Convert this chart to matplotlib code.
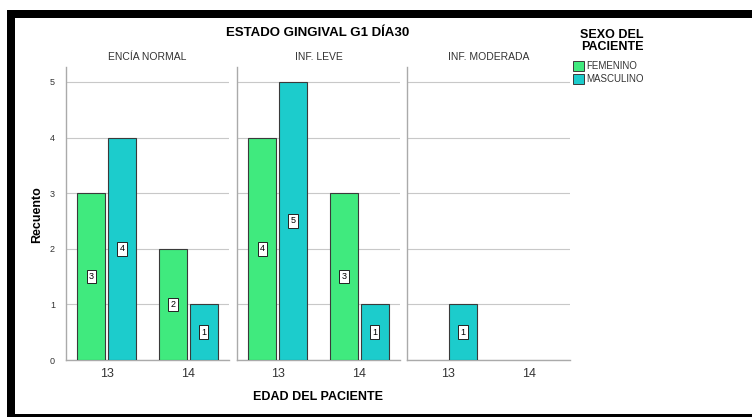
import matplotlib
matplotlib.use("Agg")
import matplotlib.pyplot as plt
from matplotlib.patches import Rectangle
import numpy as np

plt.rcParams['font.family'] = ['Liberation Sans', 'DejaVu Sans']

panels = ["ENCÍA NORMAL", "INF. LEVE", "INF. MODERADA"]
ages = ["13", "14"]
series = ["FEMENINO", "MASCULINO"]
femenino = [[3, 2], [4, 3], [0, 0]]
masculino = [[4, 1], [5, 1], [1, 0]]
colors = ["#40EA7E", "#1CCCCC"]

W, H = 752, 417
fig = plt.figure(figsize=(W / 100, H / 100), dpi=100)

lefts = [66, 237, 407]
pw = 163
bottom_px, top_px = 360, 67
x = np.arange(len(ages))
bw = 0.34
off = 0.19
unit = (360 - 82) / 5.0
ytop = (bottom_px - top_px) / unit

for i, name in enumerate(panels):
    ax = fig.add_axes([lefts[i] / W, 1 - bottom_px / H, pw / W, (bottom_px - top_px) / H])
    ax.set_xlim(-0.5, 1.5)
    ax.set_ylim(0, ytop)
    ax.set_yticks(range(6))
    ax.grid(axis='y', color='#c8c8c8', linewidth=0.8)
    ax.set_axisbelow(True)
    for s in ['top', 'right']:
        ax.spines[s].set_visible(False)
    for s in ['left', 'bottom']:
        ax.spines[s].set_color('#aaaaaa')
        ax.spines[s].set_linewidth(1.0)
    ax.tick_params(length=0, colors='#333333')
    ax.set_xticks(x)
    ax.set_xticklabels(ages, fontsize=9, color='#333333')
    ax.tick_params(axis='x', pad=6)
    if i == 0:
        ax.set_yticklabels([str(v) for v in range(6)], fontsize=6.5)
        ax.tick_params(axis='y', pad=8)
    else:
        ax.set_yticklabels([])
    for j, (vals, c) in enumerate(zip([femenino[i], masculino[i]], colors)):
        pos = x + (-off if j == 0 else off)
        keep = [k for k, v in enumerate(vals) if v > 0]
        if keep:
            ax.bar([pos[k] for k in keep], [vals[k] for k in keep], width=bw, color=c,
                   edgecolor='#3a3a3a', linewidth=0.8, zorder=3)
        for k in keep:
            v = vals[k]
            ax.text(pos[k], v / 2, str(v), ha='center', va='center', fontsize=6.5, zorder=5,
                    bbox=dict(boxstyle='square,pad=0.25', fc='white', ec='#222222', lw=0.7))
    ax.set_title(name, fontsize=7.5, color='#333333', pad=5)

fig.text(318 / W, 1 - 33 / H, "ESTADO GINGIVAL G1 DÍA30", ha='center', va='center',
         fontsize=9.5, fontweight='bold')
fig.text(37 / W, 1 - 215 / H, "Recuento", rotation=90, ha='center', va='center',
         fontsize=9, fontweight='bold')
fig.text(318 / W, 1 - 397 / H, "EDAD DEL PACIENTE", ha='center', va='center',
         fontsize=9, fontweight='bold')
fig.text(612 / W, 1 - 41 / H, "SEXO DEL\nPACIENTE", ha='center', va='center',
         fontsize=9, fontweight='bold', linespacing=0.9)

for k, (lab, c) in enumerate(zip(series, colors)):
    yc = 66 + k * 13
    fig.add_artist(Rectangle((573 / W, 1 - (yc + 5) / H), 11 / W, 10 / H,
                             transform=fig.transFigure, fc=c, ec='#3a3a3a', lw=0.7))
    fig.text(586 / W, 1 - yc / H, lab, ha='left', va='center', fontsize=7, color='#333333')

# black frame
fig.add_artist(Rectangle((7 / W, 1 - 18 / H), (W - 7) / W, 8 / H, transform=fig.transFigure,
                         fc='black', ec='none'))
fig.add_artist(Rectangle((7 / W, 1 - 417 / H), 8 / W, 407 / H, transform=fig.transFigure,
                         fc='black', ec='none'))
fig.add_artist(Rectangle((7 / W, 0), (W - 7) / W, 3 / H, transform=fig.transFigure,
                         fc='black', ec='none'))

fig.savefig("out.png", dpi=100)
